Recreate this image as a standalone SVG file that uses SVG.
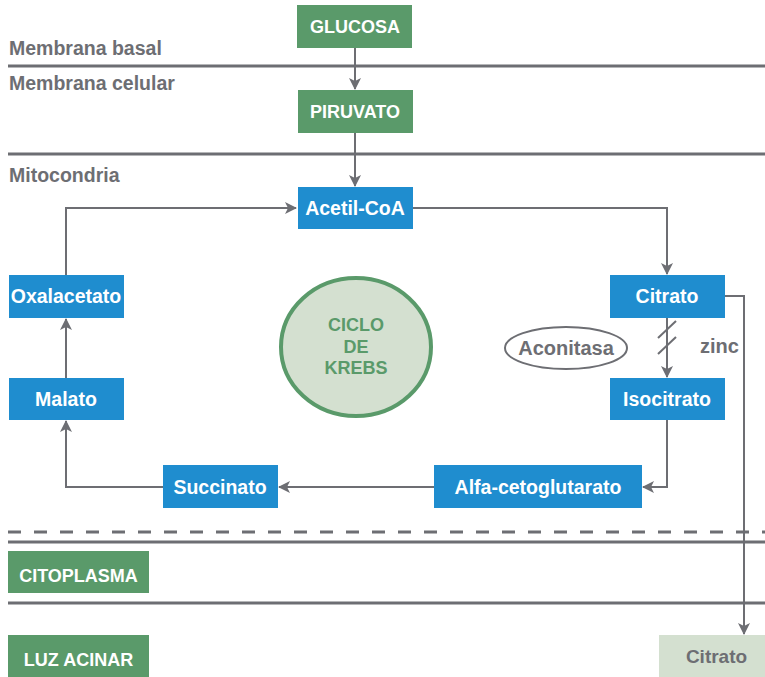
<svg xmlns="http://www.w3.org/2000/svg" width="765" height="677" viewBox="0 0 765 677">
<defs>
<marker id="arr" viewBox="0 0 12 12" refX="11" refY="6" markerWidth="12" markerHeight="12" markerUnits="userSpaceOnUse" orient="auto">
<path d="M0,0 L12,6 L0,12 L3,6 Z" fill="#6d6e73"/>
</marker>
<style>
.lbl{font-family:"Liberation Sans",Arial,sans-serif;font-weight:bold;font-size:19.5px;fill:#6d6e73}
.bt{font-family:"Liberation Sans",Arial,sans-serif;font-weight:bold;font-size:19.5px;fill:#fff;text-anchor:middle}
.gt{font-family:"Liberation Sans",Arial,sans-serif;font-weight:bold;font-size:18px;fill:#fff;text-anchor:middle}
.blue{fill:#1f8dcf}
.green{fill:#5a9a6a}
.mem{stroke:#6d6e73;stroke-width:3;fill:none}
.con{stroke:#6d6e73;stroke-width:2;fill:none}
</style>
</defs>
<rect width="765" height="677" fill="#fff"/>
<g id="membranes">
<line class="mem" x1="8" y1="66" x2="765" y2="66"/>
<line class="mem" x1="8" y1="154" x2="765" y2="154"/>
<line class="mem" x1="8" y1="532" x2="765" y2="532" stroke-dasharray="13 13"/>
<line class="mem" x1="8" y1="542" x2="765" y2="542"/>
<line class="mem" x1="8" y1="603" x2="765" y2="603"/>
<text class="lbl" x="9" y="55">Membrana basal</text>
<text class="lbl" x="9" y="90">Membrana celular</text>
<text class="lbl" x="9" y="182">Mitocondria</text>
</g>
<g id="connectors">
<line class="con" x1="355" y1="48" x2="355" y2="89" marker-end="url(#arr)"/>
<line class="con" x1="355" y1="133" x2="355" y2="186" marker-end="url(#arr)"/>
<polyline class="con" points="413,208 667,208 667,274" marker-end="url(#arr)"/>
<polyline class="con" points="66,275 66,208 296,208" marker-end="url(#arr)"/>
<line class="con" x1="66" y1="378" x2="66" y2="319" marker-end="url(#arr)"/>
<polyline class="con" points="163,487 66,487 66,421" marker-end="url(#arr)"/>
<line class="con" x1="434" y1="487" x2="279" y2="487" marker-end="url(#arr)"/>
<polyline class="con" points="667,420 667,487 643,487" marker-end="url(#arr)"/>
<line class="con" x1="667" y1="318" x2="667" y2="377" marker-end="url(#arr)"/>
<line class="con" x1="658" y1="338" x2="676" y2="321"/>
<line class="con" x1="658" y1="354" x2="676" y2="337"/>
<polyline class="con" points="725,296 744,296 744,634" marker-end="url(#arr)"/>
</g>
<g id="glucosa"><rect class="green" x="297" y="5" width="115" height="43"/><text class="gt" x="355" y="33">GLUCOSA</text></g>
<g id="piruvato"><rect class="green" x="298" y="90" width="115" height="43"/><text class="gt" x="355" y="118">PIRUVATO</text></g>
<g id="acetilcoa"><rect class="blue" x="298" y="187" width="115" height="42"/><text class="bt" x="355" y="215">Acetil-CoA</text></g>
<g id="citrato"><rect class="blue" x="610" y="275" width="115" height="43"/><text class="bt" x="667" y="303">Citrato</text></g>
<g id="isocitrato"><rect class="blue" x="610" y="378" width="115" height="42"/><text class="bt" x="667" y="406">Isocitrato</text></g>
<g id="alfa"><rect class="blue" x="434" y="465" width="208" height="43"/><text class="bt" x="538" y="494">Alfa-cetoglutarato</text></g>
<g id="succinato"><rect class="blue" x="163" y="465" width="115" height="43"/><text class="bt" x="220" y="494">Succinato</text></g>
<g id="malato"><rect class="blue" x="9" y="378" width="115" height="42"/><text class="bt" x="66" y="406">Malato</text></g>
<g id="oxalacetato"><rect class="blue" x="9" y="275" width="115" height="43"/><text class="bt" x="66" y="303">Oxalacetato</text></g>
<g id="krebs">
<ellipse cx="356" cy="347" rx="75" ry="69" fill="#d4e0d0" stroke="#5a9a6a" stroke-width="4"/>
<text class="bt" style="fill:#5a9a6a;font-size:18px" x="356" y="331">CICLO</text>
<text class="bt" style="fill:#5a9a6a;font-size:18px" x="356" y="353">DE</text>
<text class="bt" style="fill:#5a9a6a;font-size:18px" x="356" y="374">KREBS</text>
</g>
<g id="aconitasa">
<ellipse cx="566" cy="348" rx="61" ry="21" fill="#fff" stroke="#6d6e73" stroke-width="2"/>
<text class="lbl" x="566" y="355" text-anchor="middle" style="font-size:20px">Aconitasa</text>
</g>
<g id="zinc"><text class="lbl" x="700" y="353" style="font-size:20px">zinc</text></g>
<g id="citoplasma"><rect class="green" x="8" y="551" width="141" height="42"/><text class="gt" x="78.5" y="582">CITOPLASMA</text></g>
<g id="luzacinar"><rect class="green" x="8" y="635" width="141" height="42"/><text class="gt" x="78.5" y="666">LUZ ACINAR</text></g>
<g id="citrato2"><rect x="659" y="635" width="106" height="42" fill="#d4e0d0"/><text class="gt" style="fill:#6d6e73;font-size:19px" x="716.5" y="663">Citrato</text></g>
</svg>
